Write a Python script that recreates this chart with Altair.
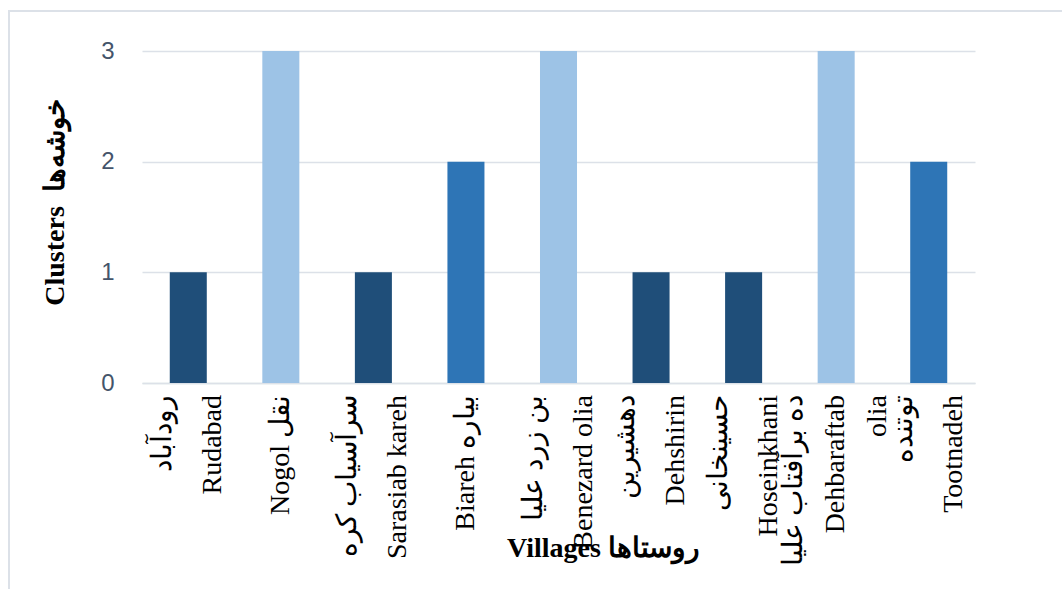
import altair as alt
import pandas as pd

# Data
villages = [
    "رودآباد|Rudabad",
    "Nogol نقل",
    "سرآسیاب کره|Sarasiab kareh",
    "Biareh بیاره",
    "بن زرد علیا|Benezard olia",
    "دهشیرین|Dehshirin",
    "حسینخانی|Hoseinkhani",
    "ده برآفتاب علیا|Dehbaraftab|olia",
    "توتنده|Tootnadeh",
]
clusters = [1, 3, 1, 2, 3, 1, 1, 3, 2]
cluster_levels = [1, 2, 3]
cluster_colors = ["#1F4E79", "#2E75B6", "#9DC3E6"]
y_ticks = [0, 1, 2, 3]

df = pd.DataFrame({"village": villages, "cluster": clusters})

W, H = 833, 332
GRID = "#DCE1E8"

x_enc = alt.X(
    "village:N",
    sort=villages,
    scale=alt.Scale(paddingInner=0.6, paddingOuter=0.3),
    axis=alt.Axis(
        title="Villages روستاها",
        titleFont="Liberation Serif",
        titleFontSize=28,
        titleFontWeight="bold",
        titleColor="black",
        titleX=461,
        titleY=165,
        titleAlign="center",
        titleBaseline="middle",
        labels=False,
        ticks=False,
        domain=True,
        domainColor=GRID,
        domainWidth=1.5,
    ),
)

base = alt.Chart(df)

bars = base.mark_bar().encode(
    x=x_enc,
    y=alt.Y(
        "cluster:Q",
        scale=alt.Scale(domain=[0, 3], nice=False),
        axis=alt.Axis(
            values=y_ticks,
            title="Clusters\u00a0\u00a0خوشه‌ها",
            titleFont="Liberation Serif",
            titleFontSize=28,
            titleFontWeight="bold",
            titleColor="black",
            titleAngle=270,
            titleX=-87,
            titleY=151,
            titleAlign="center",
            titleBaseline="middle",
            labelFont="Liberation Sans",
            labelFontSize=24,
            labelColor="#44546A",
            labelPadding=28,
            ticks=False,
            domain=False,
            grid=True,
            gridColor=GRID,
            gridWidth=1.5,
            format="d",
        ),
    ),
    color=alt.Color(
        "cluster:O",
        scale=alt.Scale(domain=cluster_levels, range=cluster_colors),
        legend=None,
    ),
)


def label_layer(n_lines, line_h, shift):
    return (
        base.transform_calculate(
            lines="split(datum.village, '|')",
            n="length(split(datum.village, '|'))",
        )
        .transform_filter(f"datum.n == {n_lines}")
        .mark_text(
            angle=270,
            align="right",
            baseline="middle",
            lineHeight=line_h,
            dy=shift,
            font="Liberation Serif",
            fontSize=28,
            color="black",
        )
        .encode(
            x=alt.X("village:N", sort=villages),
            y=alt.value(H + 12),
            text=alt.Text("lines:N"),
        )
    )


border = alt.Chart(pd.DataFrame({"a": [0]})).mark_rect(
    fill=None, stroke=GRID, strokeWidth=2
).encode(
    x=alt.value(-133),
    y=alt.value(-40),
    x2=alt.value(W + 120),
    y2=alt.value(H + 250),
)

chart = (
    alt.layer(
        border,
        bars,
        label_layer(1, 50, 0),
        label_layer(2, 50, -25),
        label_layer(3, 42, -42),
    )
    .properties(
        width=W,
        height=H,
        autosize=alt.AutoSizeParams(type="none"),
        padding={"left": 142, "top": 51, "right": 87, "bottom": 206},
        background="white",
    )
    .configure_view(stroke=None)
)

chart.save("out.html", embed_options={"renderer": "svg", "actions": False})
